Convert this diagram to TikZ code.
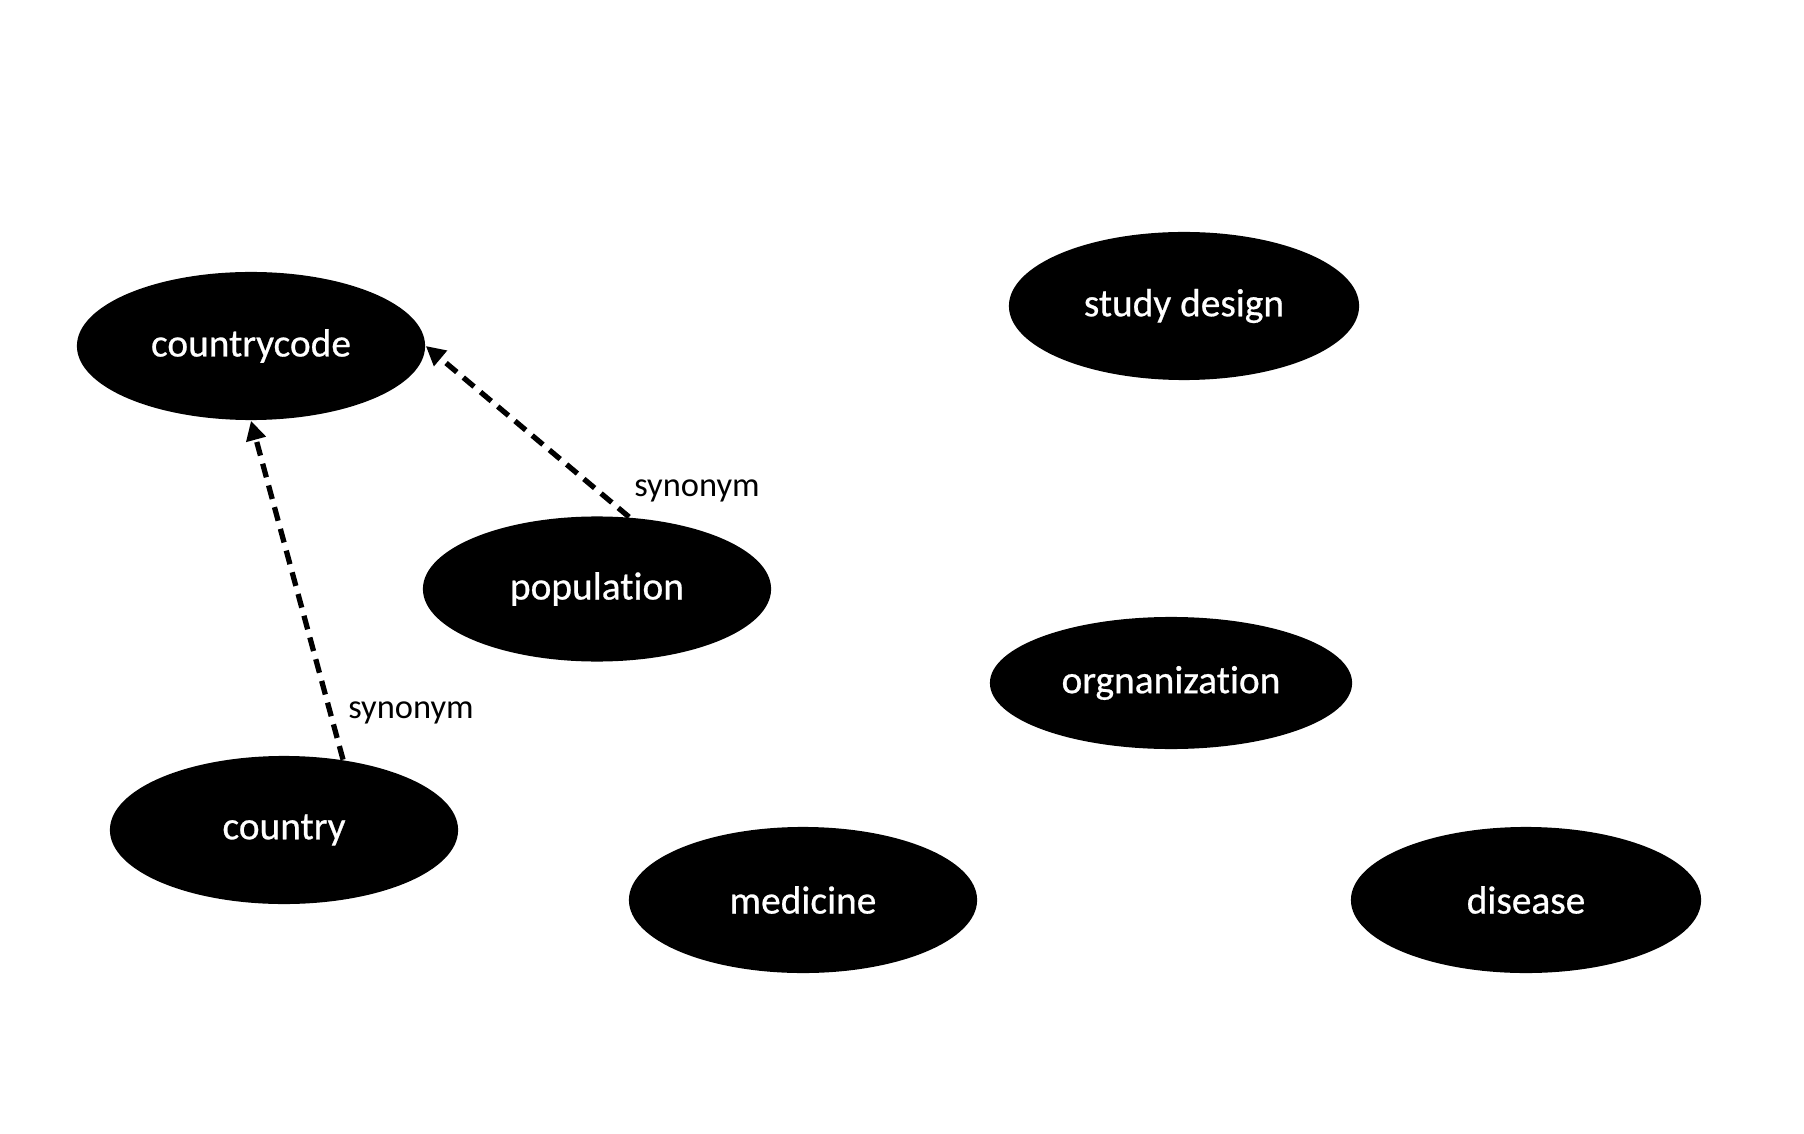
\documentclass[tikz,border=0pt]{standalone}
\usepackage{fontspec}
\setmainfont[RawFeature={-liga}]{Carlito}
\newfontfamily\nodefont[RawFeature={-liga},FakeBold=0.6]{Carlito}
\usetikzlibrary{shapes.geometric,arrows.meta}
\begin{document}
\begin{tikzpicture}[x=0.01cm,y=-0.01cm,
  concept/.style={ellipse,fill=black,draw=none,inner sep=0pt,text=white,font=\nodefont\fontsize{11.2}{13}\selectfont},
  syn/.style={draw=black,line width=1.5pt,dash pattern=on 4pt off 2.4pt,-{Triangle[length=5.5pt,width=5.5pt]}},
  lbl/.style={font=\fontsize{9.8}{12}\selectfont,text=black}]
\useasboundingbox[fill=white] (0,0) rectangle (1804,1134);
\node[concept,minimum width=3.48cm,minimum height=1.48cm] (cc) at (251,346) {countrycode};
\node[concept,minimum width=3.50cm,minimum height=1.48cm] (sd) at (1184,306) {study design};
\node[concept,minimum width=3.48cm,minimum height=1.45cm] (pop) at (597,589) {population};
\node[concept,minimum width=3.62cm,minimum height=1.32cm] (org) at (1171,683) {orgnanization};
\node[concept,minimum width=3.48cm,minimum height=1.48cm] (cty) at (284,830) {country};
\node[concept,minimum width=3.48cm,minimum height=1.46cm] (med) at (803,900) {medicine};
\node[concept,minimum width=3.50cm,minimum height=1.46cm] (dis) at (1526,900) {disease};
\draw[syn] (cty.50) -- (cc.south);
\draw[syn] (pop.66) -- (cc.east);
\node[lbl] (l1) at (697,491) {synonym};
\node[lbl] (l2) at (411,713) {synonym};
\end{tikzpicture}
\end{document}
